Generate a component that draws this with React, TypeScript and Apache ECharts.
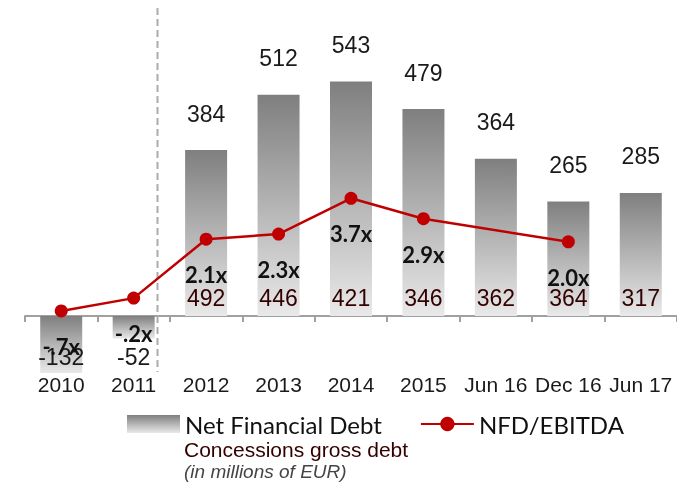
import React, { useEffect, useRef } from 'react';
import * as echarts from 'echarts';

const categories = ['2010', '2011', '2012', '2013', '2014', '2015', 'Jun 16', 'Dec 16', 'Jun 17'];
const netFinancialDebt = [-132, -52, 384, 512, 543, 479, 364, 265, 285];
const nfdEbitda: (number | null)[] = [-0.7, -0.2, 2.1, 2.3, 3.7, 2.9, null, 2.0, null];
const concessionsGrossDebt: (number | null)[] = [null, null, 492, 446, 421, 346, 362, 364, 317];

export default function App() {
  const ref = useRef<HTMLDivElement>(null);
  useEffect(() => {
    const chart = echarts.init(ref.current!, null, { renderer: 'svg' });
    const barGrad = new echarts.graphic.LinearGradient(0, 0, 0, 1, [
      { offset: 0, color: '#7f7f7f' },
      { offset: 1, color: '#e9e9e9' },
    ]);
    const sans = '"Liberation Sans", Arial, sans-serif';
    const calib = 'Lato, "Open Sans", sans-serif';
    chart.setOption({
      animation: false,
      grid: { left: 25, right: -8, top: 60, bottom: 110, containLabel: false },
      legend: {
        left: 127,
        top: 412,
        padding: 0,
        itemWidth: 53,
        itemHeight: 18,
        itemGap: 38,
        textStyle: { fontFamily: calib, fontSize: 24, color: '#111' },
        data: [{ name: 'Net Financial Debt', icon: 'rect' }, { name: 'NFD/EBITDA' }],
      },
      xAxis: {
        type: 'category',
        data: categories,
        axisLine: { lineStyle: { color: '#a0a0a0', width: 2 } },
        axisTick: { show: true, length: 6, lineStyle: { color: '#a0a0a0', width: 2 } },
        axisLabel: { interval: 0, margin: 2, color: '#1a1a1a', fontSize: 21, fontFamily: sans },
      },
      yAxis: [
        { type: 'value', show: false, min: -129.6, max: 592.6, splitLine: { show: false } },
        { type: 'value', show: false, min: -3.086, max: 9.1, splitLine: { show: false } },
      ],
      graphic: [
        {
          type: 'line',
          shape: { x1: 157.5, y1: 8, x2: 157.5, y2: 372 },
          style: { stroke: '#ababab', lineWidth: 2, lineDash: [7, 4] },
          z: 1,
        },
        {
          type: 'text',
          x: 184,
          y: 449,
          style: { text: 'Concessions gross debt', fill: '#330000', font: '21px "Liberation Sans"', verticalAlign: 'middle' },
        },
        {
          type: 'text',
          x: 184,
          y: 471,
          style: { text: '(in millions of EUR)', fill: '#444', font: 'italic 19px "Liberation Sans"', verticalAlign: 'middle' },
        },
      ],
      series: [
        {
          name: 'Net Financial Debt',
          type: 'bar',
          barWidth: 42,
          clip: false,
          itemStyle: { color: barGrad },
          label: { show: true, position: 'top', distance: 25, fontSize: 23, color: '#1a1a1a', fontFamily: sans },
          data: netFinancialDebt.map((v) =>
            v < 0
              ? { value: v, label: { position: ['50%', 41], align: 'center', verticalAlign: 'middle' } }
              : v
          ),
          z: 2,
        },
        {
          name: 'Concessions gross debt',
          type: 'custom',
          data: concessionsGrossDebt
            .map((v, i) => (v == null ? null : [i, v]))
            .filter((d) => d !== null),
          renderItem: (params: any, api: any) => {
            const idx = api.value(0);
            const val = api.value(1);
            const pt = api.coord([idx, 0]);
            return {
              type: 'text',
              x: pt[0],
              y: pt[1] - 18,
              style: {
                text: String(val),
                fill: '#330000',
                font: '23px "Liberation Sans"',
                align: 'center',
                verticalAlign: 'middle',
              },
            };
          },
          z: 3,
        },
        {
          name: 'NFD/EBITDA',
          type: 'line',
          yAxisIndex: 1,
          data: nfdEbitda,
          connectNulls: true,
          symbol: 'circle',
          symbolSize: 13,
          lineStyle: { color: '#c00000', width: 2.5 },
          itemStyle: { color: '#c00000' },
          label: {
            show: true,
            position: 'bottom',
            distance: 18,
            fontFamily: calib,
            fontWeight: 'bold',
            fontSize: 22,
            color: '#111',
            formatter: (p: any) => {
              const v = p.value as number;
              const s = Math.abs(v) < 1 ? v.toFixed(1).replace('0.', '.') : v.toFixed(1);
              return s + 'x';
            },
          },
          z: 5,
        },
      ],
    });
    return () => chart.dispose();
  }, []);
  return <div ref={ref} style={{ position: 'fixed', left: 0, top: 0, width: 677, height: 482 }} />;
}
